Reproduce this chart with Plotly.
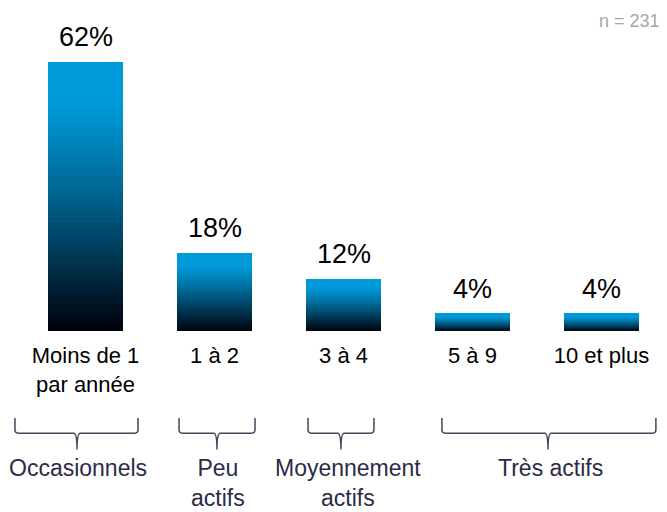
import plotly.graph_objects as go

# ---- data ----
categories = ["Moins de 1<br>par année", "1 à 2", "3 à 4", "5 à 9", "10 et plus"]
values = [62, 18, 12, 4, 4]
value_labels = ["62%", "18%", "12%", "4%", "4%"]
group_names = ["Occasionnels", "Peu<br>actifs", "Moyennement<br>actifs", "Très actifs"]
sample_note = "n = 231"

# ---- styling ----
FONT = "Liberation Sans, Arial, sans-serif"
TOP = (0, 153, 217)
BOTTOM = (0, 0, 8)
N_SLICES = 40

def grad_color(t_from_bottom):
    s = 1 - t_from_bottom  # fraction from top
    f = 0.0 if s < 0.15 else (s - 0.15) / 0.85
    f = f ** 1.15
    r, g, b = [round(TOP[i] + (BOTTOM[i] - TOP[i]) * f) for i in range(3)]
    return f"rgb({r},{g},{b})"

x_idx = list(range(len(categories)))
fig = go.Figure()
for k in range(N_SLICES):
    fig.add_trace(go.Bar(
        x=x_idx,
        y=[v / N_SLICES for v in values],
        marker=dict(color=grad_color((k + 0.5) / N_SLICES), line=dict(width=0)),
        hoverinfo="skip",
        showlegend=False,
    ))

# value labels
for i, (v, lab) in enumerate(zip(values, value_labels)):
    fig.add_annotation(x=i, y=v, xref="x", yref="y", text=lab, showarrow=False,
                       yanchor="bottom", yshift=8,
                       font=dict(family=FONT, size=27, color="#000000"))

# group brackets (x in category units, y in paper units)
brackets = [(-0.547, 0.407, -0.066), (0.725, 1.314, 1.019),
            (1.725, 2.236, 1.980), (2.763, 4.422, 3.585)]
label_x = [-0.058, 1.027, 2.035, 3.608]
y_top, y_mid, y_bot = -0.286, -0.336, -0.39
d = 0.025
for (x0, x1, xc), gx, name in zip(brackets, label_x, group_names):
    path = (f"M {x0},{y_top} L {x0},{y_mid + 0.012} Q {x0},{y_mid} {x0 + d},{y_mid} "
            f"L {xc - d},{y_mid} Q {xc},{y_mid} {xc},{y_bot} "
            f"M {x1},{y_top} L {x1},{y_mid + 0.012} Q {x1},{y_mid} {x1 - d},{y_mid} "
            f"L {xc + d},{y_mid} Q {xc},{y_mid} {xc},{y_bot}")
    fig.add_shape(type="path", path=path, xref="x", yref="paper",
                  line=dict(color="#45455c", width=1.5))
    fig.add_annotation(x=gx, y=-0.402, xref="x", yref="paper", text=name,
                       showarrow=False, yanchor="top",
                       font=dict(family=FONT, size=23, color="#2b2b48"))

fig.add_annotation(x=1, y=1.02, xref="paper", yref="paper", text=sample_note,
                   showarrow=False, xanchor="right", yanchor="middle", xshift=-13,
                   font=dict(family=FONT, size=18, color="#a6a6a6"))

fig.update_layout(
    width=667, height=512,
    margin=dict(l=0, r=0, t=19, b=189),
    barmode="stack", bargap=0.419,
    plot_bgcolor="white", paper_bgcolor="white",
    xaxis=dict(tickmode="array", tickvals=x_idx, ticktext=categories,
               range=[-0.601, 4.570], showgrid=False, zeroline=False, showline=False,
               ticks="", ticklabelstandoff=9,
               tickfont=dict(family=FONT, size=22, color="#000000")),
    yaxis=dict(range=[0, 70], visible=False),
)

fig.write_html("out.html")
